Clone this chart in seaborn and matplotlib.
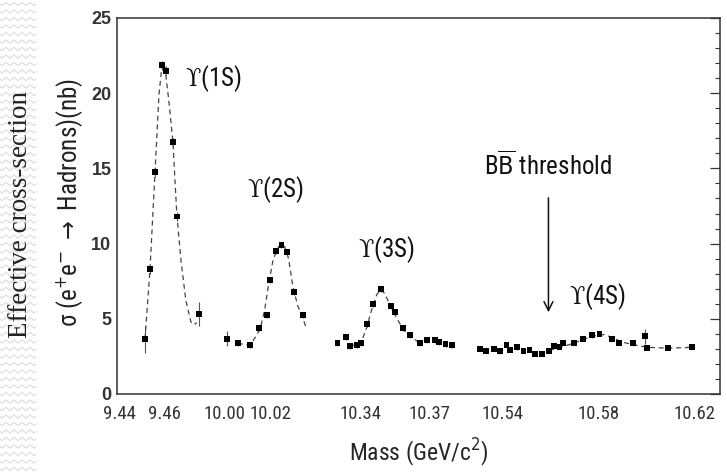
import numpy as np
import matplotlib
matplotlib.use("Agg")
import matplotlib.pyplot as plt
from matplotlib.lines import Line2D
import seaborn as sns

# ---- measured cross-sections (GeV, nb) for the four scan windows ----
mass_1s = [9.4514, 9.4535, 9.4558, 9.4586, 9.4603, 9.4635, 9.4653, 9.4748]
sigma_1s = [3.64, 8.29, 14.76, 21.87, 21.50, 16.74, 11.80, 5.32]
err_1s = [0.9, 0.3, 0.3, 0.3, 0.3, 0.3, 0.3, 0.8]

mass_2s = [10.0009, 10.0058, 10.0110, 10.0151, 10.0183, 10.0196, 10.0223,
           10.0247, 10.0270, 10.0301, 10.0339]
sigma_2s = [3.66, 3.37, 3.24, 4.41, 5.25, 7.58, 9.51, 9.91, 9.44, 6.76, 5.23]
err_2s = [0.5, 0.2, 0.2, 0.2, 0.2, 0.2, 0.2, 0.2, 0.2, 0.2, 0.2]

mass_3s = [10.3299, 10.3336, 10.3353, 10.3386, 10.3403, 10.3427, 10.3453,
           10.3487, 10.3532, 10.3549, 10.3584, 10.3616, 10.3658, 10.3691,
           10.3726, 10.3743, 10.3770, 10.3800]
sigma_3s = [3.41, 3.81, 3.21, 3.28, 3.41, 4.63, 5.98, 6.96, 5.85, 5.47,
            4.41, 3.90, 3.41, 3.61, 3.58, 3.44, 3.30, 3.28]
err_3s = [0.2] * len(mass_3s)

mass_4s = [10.5308, 10.5333, 10.5363, 10.5388, 10.5417, 10.5433, 10.5460,
           10.5488, 10.5513, 10.5535, 10.5565, 10.5595, 10.5617, 10.5638,
           10.5652, 10.5700, 10.5735, 10.5772, 10.5805, 10.5859, 10.5887,
           10.5944, 10.5996, 10.6004, 10.6092, 10.6192]
sigma_4s = [3.01, 2.86, 2.99, 2.84, 3.28, 2.91, 3.10, 2.86, 2.93, 2.66,
            2.66, 2.86, 3.20, 3.14, 3.40, 3.41, 3.66, 3.90, 3.99, 3.68,
            3.41, 3.37, 3.84, 3.06, 3.08, 3.13]
err_4s = [0.15] * len(mass_4s)
err_4s[22] = 0.5

# ---- fitted resonance line shapes ----
fit_mass_1s = [9.4513, 9.4535, 9.4557, 9.4574, 9.4587, 9.4594, 9.4600, 9.4617,
               9.4635, 9.4652, 9.4670, 9.4691, 9.4713, 9.4726, 9.4739]
fit_sigma_1s = [3.65, 8.3, 14.8, 19.9, 21.8, 22.0, 21.7, 19.5, 16.75, 11.9,
                8.9, 6.25, 4.8, 4.6, 4.75]

fit_mass_2s = [10.0057, 10.0109, 10.0139, 10.0157, 10.0174, 10.0191, 10.0209,
               10.0226, 10.0243, 10.0261, 10.0278, 10.0296, 10.0317, 10.0339,
               10.0352]
fit_sigma_2s = [3.37, 3.24, 3.9, 4.5, 5.6, 7.3, 8.8, 9.6, 9.95, 9.8, 9.0,
                7.2, 5.9, 5.1, 4.5]

fit_mass_3s = [10.3352, 10.3383, 10.3404, 10.3426, 10.3448, 10.3470, 10.3487,
               10.3504, 10.3526, 10.3548, 10.3570, 10.3591, 10.3617, 10.3648]
fit_sigma_3s = [3.3, 3.2, 3.5, 4.4, 5.6, 6.6, 6.95, 6.7, 6.0, 5.3, 4.7, 4.2,
                3.8, 3.5]

fit_mass_4s = [10.5596, 10.5642, 10.5692, 10.5742, 10.5792, 10.5825, 10.5858,
               10.5900, 10.5955, 10.6008, 10.6092, 10.6192]
fit_sigma_4s = [2.9, 3.1, 3.35, 3.65, 3.9, 3.95, 3.75, 3.45, 3.25, 3.1, 3.05,
                3.1]

# ---- tick labels on the broken mass axis ----
tick_masses = [9.44, 9.46, 10.00, 10.02, 10.34, 10.37, 10.54, 10.58, 10.62]
tick_labels = ["9.44", "9.46", "10.00", "10.02", "10.34", "10.37", "10.54",
               "10.58", "10.62"]

# piecewise-linear mass axis: four scan windows packed side by side
seg_mass = [9.4391, 9.4809, 9.9957, 10.0461, 10.3278, 10.3861, 10.5258, 10.6308]
seg_pos = [0, 96, 98, 214, 216, 350, 352, 604]


def forward(m):
    m = np.asarray(m, dtype=float)
    return np.where(m < seg_mass[0], seg_pos[0] + (m - seg_mass[0]) * 2300,
                    np.where(m > seg_mass[-1], seg_pos[-1] + (m - seg_mass[-1]) * 2400,
                             np.interp(m, seg_mass, seg_pos)))


def inverse(p):
    p = np.asarray(p, dtype=float)
    return np.where(p < seg_pos[0], seg_mass[0] + (p - seg_pos[0]) / 2300,
                    np.where(p > seg_pos[-1], seg_mass[-1] + (p - seg_pos[-1]) / 2400,
                             np.interp(p, seg_pos, seg_mass)))


sns.set_theme(style="white")
narrow = ["Liberation Sans Narrow", "Roboto Condensed", "Open Sans Condensed",
          "Noto Sans Condensed", "DejaVu Sans"]
plt.rcParams["font.family"] = narrow
plt.rcParams["font.stretch"] = "condensed"
plt.rcParams["mathtext.fontset"] = "custom"
plt.rcParams["mathtext.rm"] = "DejaVu Sans"
plt.rcParams["mathtext.it"] = "DejaVu Sans"
plt.rcParams["mathtext.sf"] = "DejaVu Serif"

fig = plt.figure(figsize=(7.27, 4.72), dpi=100)

# faint wavy texture along the left edge of the slide
for row in np.arange(4, 472, 7.5):
    xs = np.arange(0, 38, 2.0)
    ys = row + 1.6 * np.sin(xs / 8.0 * 2 * np.pi)
    fig.add_artist(Line2D(xs / 727, 1 - ys / 472, color="#dcdcdc",
                          linewidth=0.8, transform=fig.transFigure, zorder=0))

ax = fig.add_axes([117 / 727, 78 / 472, 603 / 727, 376 / 472])
ax.set_xscale("function", functions=(forward, inverse))

dash_kw = dict(color="#444444", linewidth=0.9, dashes=(4, 3), sort=False,
               estimator=None, legend=False)
for fm, fs in [(fit_mass_1s, fit_sigma_1s), (fit_mass_2s, fit_sigma_2s),
               (fit_mass_3s, fit_sigma_3s), (fit_mass_4s, fit_sigma_4s)]:
    sns.lineplot(x=fm, y=fs, ax=ax, **dash_kw)

for m, s, e in [(mass_1s, sigma_1s, err_1s), (mass_2s, sigma_2s, err_2s),
                (mass_3s, sigma_3s, err_3s), (mass_4s, sigma_4s, err_4s)]:
    ax.errorbar(m, s, yerr=e, fmt="none", ecolor="#555555", elinewidth=0.8,
                capsize=0)
    sns.scatterplot(x=m, y=s, ax=ax, marker="s", s=18, color="black",
                    edgecolor="none", linewidth=0, zorder=3, legend=False)

ax.set_xlim(seg_mass[0], seg_mass[-1])
ax.set_ylim(0, 25)

# minor ticks every 5 MeV inside each window
minor = np.concatenate([np.arange(9.440, 9.4805, 0.005),
                        np.arange(10.000, 10.0455, 0.005),
                        np.arange(10.330, 10.3855, 0.005),
                        np.arange(10.530, 10.6305, 0.005)])
ax.xaxis.set_major_locator(matplotlib.ticker.FixedLocator(tick_masses))
ax.xaxis.set_minor_locator(matplotlib.ticker.FixedLocator(minor))
ax.set_xticklabels(tick_labels, fontsize=13.5, color="#222222")
ax.yaxis.set_major_locator(matplotlib.ticker.MultipleLocator(5))
ax.yaxis.set_minor_locator(matplotlib.ticker.MultipleLocator(1))
for lab in ax.get_yticklabels():
    lab.set_fontfamily(["Liberation Sans", "DejaVu Sans"])
    lab.set_fontstretch("normal")
    lab.set_fontweight("bold")
    lab.set_fontsize(13)
    lab.set_color("#111111")

ax.tick_params(axis="both", which="both", direction="in", colors="#333333")
ax.tick_params(axis="both", which="major", length=7, width=0.9)
ax.tick_params(axis="both", which="minor", length=3.5, width=0.8)
ax.tick_params(axis="y", which="both", right=True)
ax.tick_params(axis="x", which="major", pad=8)
ax.tick_params(axis="y", which="major", pad=4)
for sp in ax.spines.values():
    sp.set_color("#333333")
    sp.set_linewidth(1.1)

ax.set_xlabel("Mass (GeV/c$^{2}$)", fontsize=17, labelpad=10)
ax.set_ylabel("")

# resonance labels
lab_kw = dict(fontsize=18, color="#111111", va="center")
ax.text(9.4686, 21.0, r"$\mathsf{ϒ}$(1S)", ha="left", **lab_kw)
ax.text(10.0222, 13.6, r"$\mathsf{ϒ}$(2S)", ha="center", **lab_kw)
ax.text(10.3513, 9.6, r"$\mathsf{ϒ}$(3S)", ha="center", **lab_kw)
ax.text(10.5796, 6.45, r"$\mathsf{ϒ}$(4S)", ha="center", **lab_kw)

ax.text(10.5592, 15.2, r"B$\overline{\mathrm{B}}$ threshold", ha="center",
        va="center", fontsize=18, color="#111111")
ax.annotate("", xy=(10.5592, 5.25), xytext=(10.5592, 13.23),
            arrowprops=dict(arrowstyle="->", lw=1.1, color="#111111",
                            mutation_scale=16))

# two-line y axis title
fig.text(21 / 727, 1 - 215 / 472, "Effective cross-section", rotation=90,
         ha="center", va="center", fontsize=19.5,
         family=["Liberation Serif", "DejaVu Serif"], stretch="normal",
         color="#222222")
fig.text(70 / 727, 1 - 203 / 472,
         r"σ (e$^{+}$e$^{-}$ $\rightarrow$ Hadrons)(nb)",
         rotation=90, ha="center", va="center", fontsize=18, color="#222222")

fig.savefig("out.png", dpi=100)
